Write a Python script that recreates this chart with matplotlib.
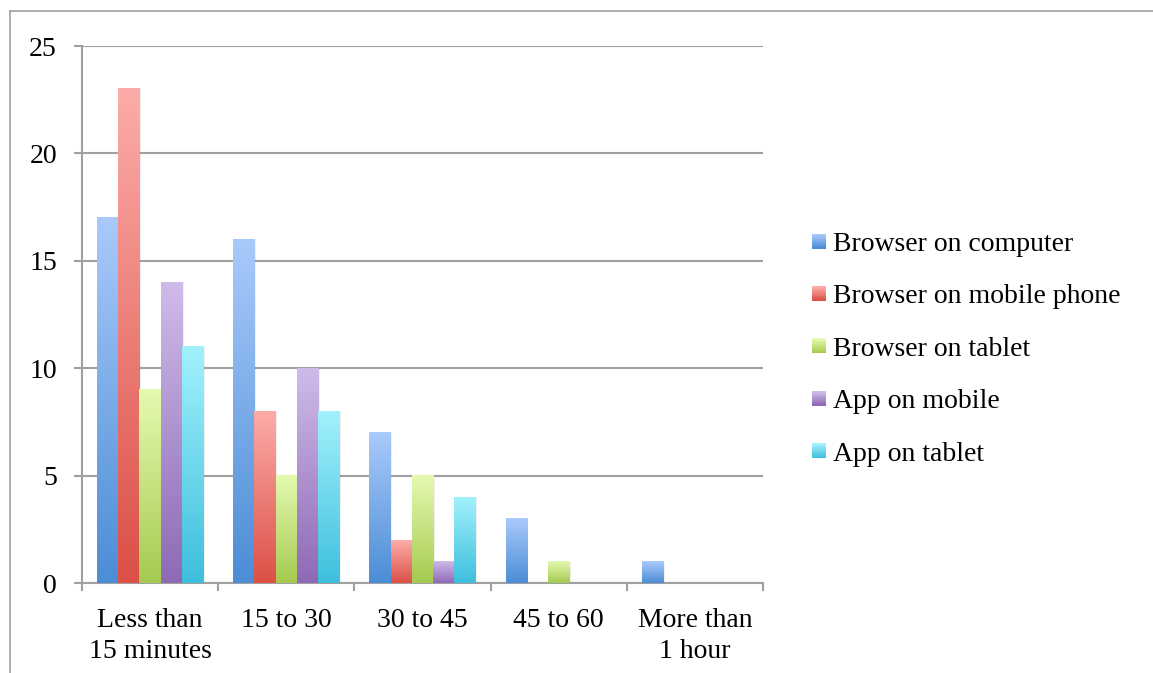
import numpy as np
import matplotlib
matplotlib.use("Agg")
import matplotlib.pyplot as plt
from matplotlib.colors import LinearSegmentedColormap
from matplotlib.patches import Rectangle
from matplotlib.legend_handler import HandlerBase
from matplotlib.lines import Line2D

# Tempo gasto por sessão, por forma de acesso
categorias = ["Less than\n15 minutes", "15 to 30", "30 to 45", "45 to 60", "More than\n1 hour"]
series = ["Browser on computer", "Browser on mobile phone", "Browser on tablet",
          "App on mobile", "App on tablet"]
browser_computador = [17, 16, 7, 3, 1]
browser_celular = [23, 8, 2, 0, 0]
browser_tablet = [9, 5, 5, 1, 0]
app_celular = [14, 10, 1, 0, 0]
app_tablet = [11, 8, 4, 0, 0]
valores = [browser_computador, browser_celular, browser_tablet, app_celular, app_tablet]

# cores (topo claro, base escura)
cores_topo = ["#a9cafb", "#fcaca8", "#e4fab0", "#cfbbea", "#a2f1fc"]
cores_base = ["#4c8dd6", "#db5047", "#a5ca50", "#8e6ab5", "#3ebfdd"]

plt.rcParams["font.family"] = ["Liberation Serif", "DejaVu Serif"]
plt.rcParams["font.size"] = 20

fig = plt.figure(figsize=(11.53, 6.73), dpi=100)
ax = fig.add_axes([0.0711, 0.1337, 0.5907, 0.7979])

cinza = "#a0a0a0"
largura = 0.156
x = np.arange(len(categorias))

for i, (vals, c0, c1) in enumerate(zip(valores, cores_topo, cores_base)):
    cmap = LinearSegmentedColormap.from_list("g%d" % i, [c1, c0])
    pos = x + (i - 2) * largura
    barras = ax.bar(pos, vals, largura, color="none", linewidth=0, zorder=3)
    for b in barras:
        h = b.get_height()
        if h <= 0:
            continue
        x0 = b.get_x()
        # sombra leve à direita
        ax.add_patch(Rectangle((x0 + largura, 0), 0.012, h, color="#000000",
                               alpha=0.06, linewidth=0, zorder=2))
        grad = np.linspace(0, 1, 256).reshape(-1, 1)
        ax.imshow(grad, cmap=cmap, origin="lower", aspect="auto",
                  extent=[x0, x0 + largura, 0, h], zorder=3)

ax.set_xlim(-0.5, len(categorias) - 0.5)
ax.set_ylim(0, 25)
ax.set_yticks(range(0, 26, 5))
ax.yaxis.grid(True, color=cinza, linewidth=1.5, zorder=1)
ax.set_axisbelow(True)

ax.set_xticks(x)
ax.set_xticklabels(categorias, linespacing=1.3)
ax.set_xticks(np.arange(len(categorias) + 1) - 0.5, minor=True)
ax.tick_params(axis="x", which="major", length=0, pad=18)
ax.tick_params(axis="x", which="minor", length=6, width=1.5, color=cinza, direction="out")
ax.tick_params(axis="y", length=6, width=1.5, color=cinza, pad=12)

for lado in ["top", "right"]:
    ax.spines[lado].set_visible(False)
for lado in ["left", "bottom"]:
    ax.spines[lado].set_color(cinza)
    ax.spines[lado].set_linewidth(1.5)


class HandlerGradiente(HandlerBase):
    def __init__(self, c0, c1):
        super().__init__()
        self.c0 = c0
        self.c1 = c1

    def create_artists(self, legend, orig_handle, xdescent, ydescent,
                       width, height, fontsize, trans):
        cmap = LinearSegmentedColormap.from_list("h", [self.c1, self.c0])
        n = 12
        lado = 10.5
        x0 = width - lado
        y0 = (height - lado) / 2 - ydescent
        arts = []
        for k in range(n):
            r = Rectangle((x0 - xdescent, y0 + k * lado / n), lado, lado / n + 0.3,
                          facecolor=cmap(k / (n - 1)), linewidth=0, transform=trans)
            arts.append(r)
        return arts


handles = [Line2D([], [], label=s) for s in series]
handler_map = {h: HandlerGradiente(c0, c1) for h, c0, c1 in zip(handles, cores_topo, cores_base)}
fig.legend(handles=handles, labels=series, handler_map=handler_map,
           loc="center left", bbox_to_anchor=(0.683, 0.4814), frameon=False,
           handlelength=0.5, handletextpad=0.25, labelspacing=0.97, fontsize=20)

# moldura do gráfico
fig.add_artist(Line2D([10 / 1153, 10 / 1153], [0, 1 - 11 / 673], color=cinza,
                      linewidth=1.2, transform=fig.transFigure))
fig.add_artist(Line2D([10 / 1153, 1], [1 - 11 / 673, 1 - 11 / 673], color=cinza,
                      linewidth=1.2, transform=fig.transFigure))

fig.savefig("out.png", dpi=100)
